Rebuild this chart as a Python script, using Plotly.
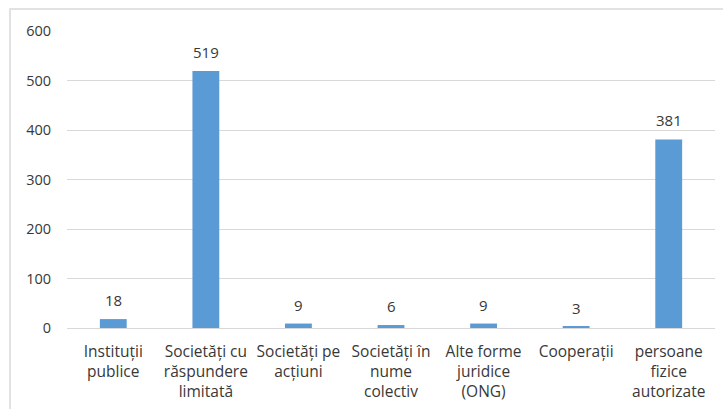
import plotly.graph_objects as go

categories = ["Instituții<br>publice", "Societăți cu<br>răspundere<br>limitată", "Societăți pe<br>acțiuni",
              "Societăți în<br>nume<br>colectiv", "Alte forme<br>juridice<br>(ONG)", "Cooperații",
              "persoane<br>fizice<br>autorizate"]
values = [18, 519, 9, 6, 9, 3, 381]
yticks = [0, 100, 200, 300, 400, 500, 600]

W, H = 723, 409
L, R, T, B = 67, 8, 31, 81
pw = W - L - R
ph = H - T - B

fig = go.Figure(go.Bar(
    x=categories, y=values, marker_color="#5b9bd5", marker_line_width=0,
    width=0.29, cliponaxis=False,
))
for c, v in zip(categories, values):
    fig.add_annotation(x=c, y=v, text=str(v), showarrow=False, yanchor="bottom",
                       yshift=7, font=dict(size=15, color="#383838"))
font = "Open Sans"
fig.update_layout(
    width=W, height=H, margin=dict(l=L, r=R, t=T, b=B),
    paper_bgcolor="white", plot_bgcolor="white",
    font=dict(family=font, size=13, color="#383838"),
    showlegend=False,
    xaxis=dict(showgrid=False, showline=True, linecolor="#d9d9d9", linewidth=1,
               tickfont=dict(size=15.5, color="#383838"), ticks="", ticklabelstandoff=9),
    yaxis=dict(range=[0, 600], tickvals=yticks, showgrid=True, gridcolor="#d9d9d9",
               gridwidth=1, zeroline=False, showline=False, ticks="",
               tickfont=dict(size=14.5, color="#383838"), ticklabelstandoff=15),
    bargap=0.7,
)
fig.add_shape(type="rect", xref="paper", yref="paper",
              x0=(10 - L) / pw, x1=1.2, y0=-0.5, y1=(H - B - 9) / ph,
              line=dict(color="#d9d9d9", width=1.5), fillcolor="rgba(0,0,0,0)", layer="below")
fig.write_html("out.html")
